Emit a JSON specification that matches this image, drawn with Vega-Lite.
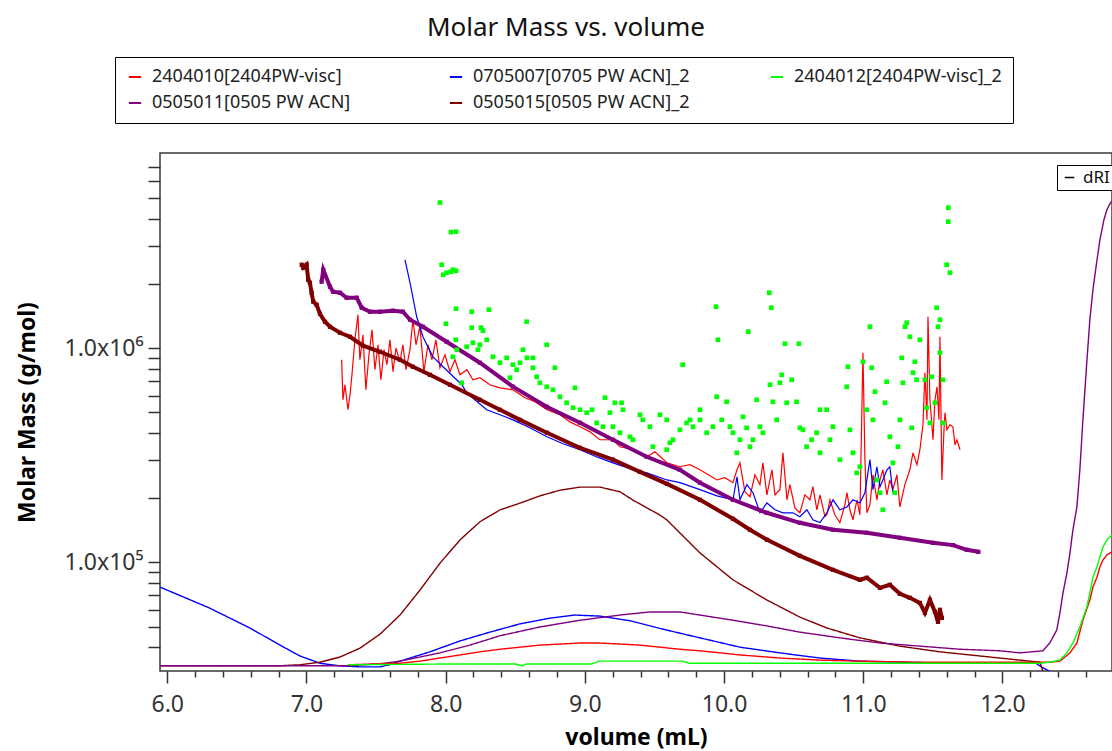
{
"$schema": "https://vega.github.io/schema/vega-lite/v6.json",
"width": 952,
"height": 518,
"autosize": {"type": "none"},
"padding": {"left": 160, "top": 153, "right": 0, "bottom": 80},
"background": "#ffffff",
"title": {"text": "Molar Mass vs. volume", "font": "Noto Sans", "fontSize": 26, "fontWeight": "normal", "color": "#111111", "anchor": "middle", "dx": -70, "offset": 16},
"config": {
  "font": "Noto Sans",
  "view": {"stroke": "#3a3a3a", "strokeWidth": 1.5},
  "axis": {"labelFont": "Noto Sans", "labelFontSize": 23, "labelColor": "#333333", "titleFont": "Noto Sans", "titleFontSize": 23, "titleFontWeight": "bold", "titleColor": "#000000", "tickColor": "#333333", "tickWidth": 1.5, "grid": false, "domain": false, "labelOverlap": false, "labelFlush": false},
  "legend": {"labelFont": "Noto Sans"}
},
"datasets": {
"mm": [
{"series":"2404010[2404PW-visc]","volume":7.253,"molar_mass":882000},
{"series":"2404010[2404PW-visc]","volume":7.262,"molar_mass":573000},
{"series":"2404010[2404PW-visc]","volume":7.277,"molar_mass":674000},
{"series":"2404010[2404PW-visc]","volume":7.298,"molar_mass":515000},
{"series":"2404010[2404PW-visc]","volume":7.313,"molar_mass":605000},
{"series":"2404010[2404PW-visc]","volume":7.327,"molar_mass":750000},
{"series":"2404010[2404PW-visc]","volume":7.348,"molar_mass":1093000},
{"series":"2404010[2404PW-visc]","volume":7.370,"molar_mass":1431000},
{"series":"2404010[2404PW-visc]","volume":7.384,"molar_mass":882000},
{"series":"2404010[2404PW-visc]","volume":7.406,"molar_mass":1154000},
{"series":"2404010[2404PW-visc]","volume":7.427,"molar_mass":638000},
{"series":"2404010[2404PW-visc]","volume":7.449,"molar_mass":930000},
{"series":"2404010[2404PW-visc]","volume":7.471,"molar_mass":1218000},
{"series":"2404010[2404PW-visc]","volume":7.492,"molar_mass":792000},
{"series":"2404010[2404PW-visc]","volume":7.514,"molar_mass":1036000},
{"series":"2404010[2404PW-visc]","volume":7.535,"molar_mass":711000},
{"series":"2404010[2404PW-visc]","volume":7.557,"molar_mass":982000},
{"series":"2404010[2404PW-visc]","volume":7.578,"molar_mass":836000},
{"series":"2404010[2404PW-visc]","volume":7.600,"molar_mass":1093000},
{"series":"2404010[2404PW-visc]","volume":7.622,"molar_mass":775000},
{"series":"2404010[2404PW-visc]","volume":7.643,"molar_mass":1000000},
{"series":"2404010[2404PW-visc]","volume":7.672,"molar_mass":863000},
{"series":"2404010[2404PW-visc]","volume":7.693,"molar_mass":1036000},
{"series":"2404010[2404PW-visc]","volume":7.715,"molar_mass":792000},
{"series":"2404010[2404PW-visc]","volume":7.744,"molar_mass":982000},
{"series":"2404010[2404PW-visc]","volume":7.765,"molar_mass":1356000},
{"series":"2404010[2404PW-visc]","volume":7.787,"molar_mass":1036000},
{"series":"2404010[2404PW-visc]","volume":7.815,"molar_mass":1258000},
{"series":"2404010[2404PW-visc]","volume":7.844,"molar_mass":775000},
{"series":"2404010[2404PW-visc]","volume":7.873,"molar_mass":1036000},
{"series":"2404010[2404PW-visc]","volume":7.902,"molar_mass":882000},
{"series":"2404010[2404PW-visc]","volume":7.930,"molar_mass":1093000},
{"series":"2404010[2404PW-visc]","volume":7.959,"molar_mass":809000},
{"series":"2404010[2404PW-visc]","volume":7.995,"molar_mass":930000},
{"series":"2404010[2404PW-visc]","volume":8.031,"molar_mass":775000},
{"series":"2404010[2404PW-visc]","volume":8.067,"molar_mass":882000},
{"series":"2404010[2404PW-visc]","volume":8.103,"molar_mass":750000},
{"series":"2404010[2404PW-visc]","volume":8.153,"molar_mass":792000},
{"series":"2404010[2404PW-visc]","volume":8.196,"molar_mass":711000},
{"series":"2404010[2404PW-visc]","volume":8.246,"molar_mass":727000},
{"series":"2404010[2404PW-visc]","volume":8.318,"molar_mass":674000},
{"series":"2404010[2404PW-visc]","volume":8.390,"molar_mass":652000},
{"series":"2404010[2404PW-visc]","volume":8.483,"molar_mass":638000},
{"series":"2404010[2404PW-visc]","volume":8.570,"molar_mass":586000},
{"series":"2404010[2404PW-visc]","volume":8.642,"molar_mass":561000},
{"series":"2404010[2404PW-visc]","volume":8.728,"molar_mass":515000},
{"series":"2404010[2404PW-visc]","volume":8.821,"molar_mass":488000},
{"series":"2404010[2404PW-visc]","volume":8.893,"molar_mass":452000},
{"series":"2404010[2404PW-visc]","volume":8.965,"molar_mass":429000},
{"series":"2404010[2404PW-visc]","volume":9.037,"molar_mass":406000},
{"series":"2404010[2404PW-visc]","volume":9.108,"molar_mass":373000},
{"series":"2404010[2404PW-visc]","volume":9.202,"molar_mass":373000},
{"series":"2404010[2404PW-visc]","volume":9.252,"molar_mass":346000},
{"series":"2404010[2404PW-visc]","volume":9.345,"molar_mass":335000},
{"series":"2404010[2404PW-visc]","volume":9.446,"molar_mass":310000},
{"series":"2404010[2404PW-visc]","volume":9.503,"molar_mass":328000},
{"series":"2404010[2404PW-visc]","volume":9.590,"molar_mass":291000},
{"series":"2404010[2404PW-visc]","volume":9.683,"molar_mass":279000},
{"series":"2404010[2404PW-visc]","volume":9.755,"molar_mass":285000},
{"series":"2404010[2404PW-visc]","volume":9.827,"molar_mass":270000},
{"series":"2404010[2404PW-visc]","volume":9.899,"molar_mass":253000},
{"series":"2404010[2404PW-visc]","volume":9.949,"molar_mass":242000},
{"series":"2404010[2404PW-visc]","volume":10.006,"molar_mass":248000},
{"series":"2404010[2404PW-visc]","volume":10.064,"molar_mass":235000},
{"series":"2404010[2404PW-visc]","volume":10.093,"molar_mass":270000},
{"series":"2404010[2404PW-visc]","volume":10.114,"molar_mass":291000},
{"series":"2404010[2404PW-visc]","volume":10.150,"molar_mass":213000},
{"series":"2404010[2404PW-visc]","volume":10.186,"molar_mass":202000},
{"series":"2404010[2404PW-visc]","volume":10.222,"molar_mass":256000},
{"series":"2404010[2404PW-visc]","volume":10.258,"molar_mass":230000},
{"series":"2404010[2404PW-visc]","volume":10.279,"molar_mass":291000},
{"series":"2404010[2404PW-visc]","volume":10.308,"molar_mass":206000},
{"series":"2404010[2404PW-visc]","volume":10.344,"molar_mass":270000},
{"series":"2404010[2404PW-visc]","volume":10.366,"molar_mass":206000},
{"series":"2404010[2404PW-visc]","volume":10.401,"molar_mass":218000},
{"series":"2404010[2404PW-visc]","volume":10.423,"molar_mass":324000},
{"series":"2404010[2404PW-visc]","volume":10.452,"molar_mass":195500},
{"series":"2404010[2404PW-visc]","volume":10.473,"molar_mass":230000},
{"series":"2404010[2404PW-visc]","volume":10.509,"molar_mass":179000},
{"series":"2404010[2404PW-visc]","volume":10.545,"molar_mass":170000},
{"series":"2404010[2404PW-visc]","volume":10.581,"molar_mass":206000},
{"series":"2404010[2404PW-visc]","volume":10.617,"molar_mass":195500},
{"series":"2404010[2404PW-visc]","volume":10.638,"molar_mass":225000},
{"series":"2404010[2404PW-visc]","volume":10.667,"molar_mass":175600},
{"series":"2404010[2404PW-visc]","volume":10.689,"molar_mass":206000},
{"series":"2404010[2404PW-visc]","volume":10.725,"molar_mass":163000},
{"series":"2404010[2404PW-visc]","volume":10.739,"molar_mass":166400},
{"series":"2404010[2404PW-visc]","volume":10.761,"molar_mass":195500},
{"series":"2404010[2404PW-visc]","volume":10.796,"molar_mass":166400},
{"series":"2404010[2404PW-visc]","volume":10.832,"molar_mass":153000},
{"series":"2404010[2404PW-visc]","volume":10.868,"molar_mass":185300},
{"series":"2404010[2404PW-visc]","volume":10.883,"molar_mass":211000},
{"series":"2404010[2404PW-visc]","volume":10.904,"molar_mass":175600},
{"series":"2404010[2404PW-visc]","volume":10.926,"molar_mass":157700},
{"series":"2404010[2404PW-visc]","volume":10.955,"molar_mass":195500},
{"series":"2404010[2404PW-visc]","volume":10.976,"molar_mass":166400},
{"series":"2404010[2404PW-visc]","volume":10.998,"molar_mass":951000},
{"series":"2404010[2404PW-visc]","volume":11.012,"molar_mass":301000},
{"series":"2404010[2404PW-visc]","volume":11.026,"molar_mass":170000},
{"series":"2404010[2404PW-visc]","volume":11.048,"molar_mass":185300},
{"series":"2404010[2404PW-visc]","volume":11.070,"molar_mass":256000},
{"series":"2404010[2404PW-visc]","volume":11.098,"molar_mass":195500},
{"series":"2404010[2404PW-visc]","volume":11.120,"molar_mass":242000},
{"series":"2404010[2404PW-visc]","volume":11.141,"molar_mass":270000},
{"series":"2404010[2404PW-visc]","volume":11.170,"molar_mass":206000},
{"series":"2404010[2404PW-visc]","volume":11.191,"molar_mass":242000},
{"series":"2404010[2404PW-visc]","volume":11.213,"molar_mass":218000},
{"series":"2404010[2404PW-visc]","volume":11.242,"molar_mass":256000},
{"series":"2404010[2404PW-visc]","volume":11.263,"molar_mass":181000},
{"series":"2404010[2404PW-visc]","volume":11.299,"molar_mass":230000},
{"series":"2404010[2404PW-visc]","volume":11.335,"molar_mass":270000},
{"series":"2404010[2404PW-visc]","volume":11.357,"molar_mass":324000},
{"series":"2404010[2404PW-visc]","volume":11.386,"molar_mass":285000},
{"series":"2404010[2404PW-visc]","volume":11.407,"molar_mass":335000},
{"series":"2404010[2404PW-visc]","volume":11.429,"molar_mass":438000},
{"series":"2404010[2404PW-visc]","volume":11.443,"molar_mass":767000},
{"series":"2404010[2404PW-visc]","volume":11.458,"molar_mass":462000},
{"series":"2404010[2404PW-visc]","volume":11.465,"molar_mass":1400000},
{"series":"2404010[2404PW-visc]","volume":11.479,"molar_mass":573000},
{"series":"2404010[2404PW-visc]","volume":11.501,"molar_mass":373000},
{"series":"2404010[2404PW-visc]","volume":11.515,"molar_mass":573000},
{"series":"2404010[2404PW-visc]","volume":11.530,"molar_mass":659000},
{"series":"2404010[2404PW-visc]","volume":11.544,"molar_mass":462000},
{"series":"2404010[2404PW-visc]","volume":11.551,"molar_mass":1129000},
{"series":"2404010[2404PW-visc]","volume":11.565,"molar_mass":242000},
{"series":"2404010[2404PW-visc]","volume":11.580,"molar_mass":415000},
{"series":"2404010[2404PW-visc]","volume":11.587,"molar_mass":499000},
{"series":"2404010[2404PW-visc]","volume":11.601,"molar_mass":415000},
{"series":"2404010[2404PW-visc]","volume":11.623,"molar_mass":438000},
{"series":"2404010[2404PW-visc]","volume":11.644,"molar_mass":429000},
{"series":"2404010[2404PW-visc]","volume":11.659,"molar_mass":353000},
{"series":"2404010[2404PW-visc]","volume":11.673,"molar_mass":373000},
{"series":"2404010[2404PW-visc]","volume":11.695,"molar_mass":335000},
{"series":"0705007[0705 PW ACN]_2","volume":7.708,"molar_mass":2585000},
{"series":"0705007[0705 PW ACN]_2","volume":7.744,"molar_mass":2020000},
{"series":"0705007[0705 PW ACN]_2","volume":7.792,"molar_mass":1400000},
{"series":"0705007[0705 PW ACN]_2","volume":7.837,"molar_mass":1129000},
{"series":"0705007[0705 PW ACN]_2","volume":7.909,"molar_mass":910000},
{"series":"0705007[0705 PW ACN]_2","volume":7.981,"molar_mass":818000},
{"series":"0705007[0705 PW ACN]_2","volume":8.079,"molar_mass":711000},
{"series":"0705007[0705 PW ACN]_2","volume":8.117,"molar_mass":674000},
{"series":"0705007[0705 PW ACN]_2","volume":8.151,"molar_mass":618000},
{"series":"0705007[0705 PW ACN]_2","volume":8.210,"molar_mass":573000},
{"series":"0705007[0705 PW ACN]_2","volume":8.295,"molar_mass":515000},
{"series":"0705007[0705 PW ACN]_2","volume":8.390,"molar_mass":488000},
{"series":"0705007[0705 PW ACN]_2","volume":8.483,"molar_mass":462000},
{"series":"0705007[0705 PW ACN]_2","volume":8.605,"molar_mass":424000},
{"series":"0705007[0705 PW ACN]_2","volume":8.728,"molar_mass":385000},
{"series":"0705007[0705 PW ACN]_2","volume":8.843,"molar_mass":357000},
{"series":"0705007[0705 PW ACN]_2","volume":8.965,"molar_mass":335000},
{"series":"0705007[0705 PW ACN]_2","volume":9.087,"molar_mass":310000},
{"series":"0705007[0705 PW ACN]_2","volume":9.202,"molar_mass":291000},
{"series":"0705007[0705 PW ACN]_2","volume":9.345,"molar_mass":270000},
{"series":"0705007[0705 PW ACN]_2","volume":9.446,"molar_mass":261000},
{"series":"0705007[0705 PW ACN]_2","volume":9.590,"molar_mass":242000},
{"series":"0705007[0705 PW ACN]_2","volume":9.683,"molar_mass":235000},
{"series":"0705007[0705 PW ACN]_2","volume":9.827,"molar_mass":218000},
{"series":"0705007[0705 PW ACN]_2","volume":9.949,"molar_mass":204000},
{"series":"0705007[0705 PW ACN]_2","volume":10.064,"molar_mass":195500},
{"series":"0705007[0705 PW ACN]_2","volume":10.093,"molar_mass":250000},
{"series":"0705007[0705 PW ACN]_2","volume":10.114,"molar_mass":195500},
{"series":"0705007[0705 PW ACN]_2","volume":10.164,"molar_mass":230000},
{"series":"0705007[0705 PW ACN]_2","volume":10.208,"molar_mass":211000},
{"series":"0705007[0705 PW ACN]_2","volume":10.258,"molar_mass":170000},
{"series":"0705007[0705 PW ACN]_2","volume":10.308,"molar_mass":189000},
{"series":"0705007[0705 PW ACN]_2","volume":10.366,"molar_mass":175600},
{"series":"0705007[0705 PW ACN]_2","volume":10.423,"molar_mass":170000},
{"series":"0705007[0705 PW ACN]_2","volume":10.495,"molar_mass":170000},
{"series":"0705007[0705 PW ACN]_2","volume":10.545,"molar_mass":163000},
{"series":"0705007[0705 PW ACN]_2","volume":10.595,"molar_mass":175600},
{"series":"0705007[0705 PW ACN]_2","volume":10.638,"molar_mass":157700},
{"series":"0705007[0705 PW ACN]_2","volume":10.689,"molar_mass":153000},
{"series":"0705007[0705 PW ACN]_2","volume":10.739,"molar_mass":170000},
{"series":"0705007[0705 PW ACN]_2","volume":10.783,"molar_mass":195500},
{"series":"0705007[0705 PW ACN]_2","volume":10.832,"molar_mass":175600},
{"series":"0705007[0705 PW ACN]_2","volume":10.883,"molar_mass":181000},
{"series":"0705007[0705 PW ACN]_2","volume":10.926,"molar_mass":195500},
{"series":"0705007[0705 PW ACN]_2","volume":10.976,"molar_mass":189000},
{"series":"0705007[0705 PW ACN]_2","volume":11.012,"molar_mass":211000},
{"series":"0705007[0705 PW ACN]_2","volume":11.048,"molar_mass":301000},
{"series":"0705007[0705 PW ACN]_2","volume":11.070,"molar_mass":218000},
{"series":"0705007[0705 PW ACN]_2","volume":11.098,"molar_mass":279000},
{"series":"0705007[0705 PW ACN]_2","volume":11.120,"molar_mass":225000},
{"series":"0705007[0705 PW ACN]_2","volume":11.141,"molar_mass":242000},
{"series":"0705007[0705 PW ACN]_2","volume":11.170,"molar_mass":270000},
{"series":"0705007[0705 PW ACN]_2","volume":11.191,"molar_mass":279000},
{"series":"0705007[0705 PW ACN]_2","volume":11.213,"molar_mass":211000},
{"series":"0505011[0505 PW ACN]","volume":7.109,"molar_mass":2040000},
{"series":"0505011[0505 PW ACN]","volume":7.121,"molar_mass":2322000},
{"series":"0505011[0505 PW ACN]","volume":7.169,"molar_mass":1934000},
{"series":"0505011[0505 PW ACN]","volume":7.191,"molar_mass":1833000},
{"series":"0505011[0505 PW ACN]","volume":7.241,"molar_mass":1813000},
{"series":"0505011[0505 PW ACN]","volume":7.289,"molar_mass":1718000},
{"series":"0505011[0505 PW ACN]","volume":7.361,"molar_mass":1718000},
{"series":"0505011[0505 PW ACN]","volume":7.397,"molar_mass":1543000},
{"series":"0505011[0505 PW ACN]","volume":7.457,"molar_mass":1478000},
{"series":"0505011[0505 PW ACN]","volume":7.528,"molar_mass":1478000},
{"series":"0505011[0505 PW ACN]","volume":7.621,"molar_mass":1494000},
{"series":"0505011[0505 PW ACN]","volume":7.693,"molar_mass":1478000},
{"series":"0505011[0505 PW ACN]","volume":7.744,"molar_mass":1356000},
{"series":"0505011[0505 PW ACN]","volume":7.837,"molar_mass":1257000},
{"series":"0505011[0505 PW ACN]","volume":8.007,"molar_mass":1070000},
{"series":"0505011[0505 PW ACN]","volume":8.246,"molar_mass":854000},
{"series":"0505011[0505 PW ACN]","volume":8.483,"molar_mass":660000},
{"series":"0505011[0505 PW ACN]","volume":8.726,"molar_mass":532000},
{"series":"0505011[0505 PW ACN]","volume":8.965,"molar_mass":448000},
{"series":"0505011[0505 PW ACN]","volume":9.202,"molar_mass":373000},
{"series":"0505011[0505 PW ACN]","volume":9.444,"molar_mass":310500},
{"series":"0505011[0505 PW ACN]","volume":9.683,"molar_mass":270000},
{"series":"0505011[0505 PW ACN]","volume":9.827,"molar_mass":235000},
{"series":"0505011[0505 PW ACN]","volume":10.064,"molar_mass":195500},
{"series":"0505011[0505 PW ACN]","volume":10.306,"molar_mass":170000},
{"series":"0505011[0505 PW ACN]","volume":10.545,"molar_mass":152600},
{"series":"0505011[0505 PW ACN]","volume":10.783,"molar_mass":141600},
{"series":"0505011[0505 PW ACN]","volume":11.024,"molar_mass":137100},
{"series":"0505011[0505 PW ACN]","volume":11.263,"molar_mass":129900},
{"series":"0505011[0505 PW ACN]","volume":11.501,"molar_mass":123100},
{"series":"0505011[0505 PW ACN]","volume":11.645,"molar_mass":120100},
{"series":"0505011[0505 PW ACN]","volume":11.743,"molar_mass":114200},
{"series":"0505011[0505 PW ACN]","volume":11.827,"molar_mass":111700},
{"series":"0505015[0505 PW ACN]_2","volume":6.966,"molar_mass":2451000},
{"series":"0505015[0505 PW ACN]_2","volume":6.977,"molar_mass":2373000},
{"series":"0505015[0505 PW ACN]_2","volume":7.001,"molar_mass":2451000},
{"series":"0505015[0505 PW ACN]_2","volume":7.013,"molar_mass":2085000},
{"series":"0505015[0505 PW ACN]_2","volume":7.025,"molar_mass":2019000},
{"series":"0505015[0505 PW ACN]_2","volume":7.037,"molar_mass":1813000},
{"series":"0505015[0505 PW ACN]_2","volume":7.049,"molar_mass":1646000},
{"series":"0505015[0505 PW ACN]_2","volume":7.073,"molar_mass":1594000},
{"series":"0505015[0505 PW ACN]_2","volume":7.097,"molar_mass":1446000},
{"series":"0505015[0505 PW ACN]_2","volume":7.133,"molar_mass":1327000},
{"series":"0505015[0505 PW ACN]_2","volume":7.169,"molar_mass":1257000},
{"series":"0505015[0505 PW ACN]_2","volume":7.241,"molar_mass":1179000},
{"series":"0505015[0505 PW ACN]_2","volume":7.313,"molar_mass":1129000},
{"series":"0505015[0505 PW ACN]_2","volume":7.406,"molar_mass":1025000},
{"series":"0505015[0505 PW ACN]_2","volume":7.528,"molar_mass":961000},
{"series":"0505015[0505 PW ACN]_2","volume":7.672,"molar_mass":882000},
{"series":"0505015[0505 PW ACN]_2","volume":7.765,"molar_mass":818000},
{"series":"0505015[0505 PW ACN]_2","volume":7.887,"molar_mass":750000},
{"series":"0505015[0505 PW ACN]_2","volume":8.031,"molar_mass":674000},
{"series":"0505015[0505 PW ACN]_2","volume":8.246,"molar_mass":573000},
{"series":"0505015[0505 PW ACN]_2","volume":8.390,"molar_mass":515000},
{"series":"0505015[0505 PW ACN]_2","volume":8.534,"molar_mass":462000},
{"series":"0505015[0505 PW ACN]_2","volume":8.728,"molar_mass":402000},
{"series":"0505015[0505 PW ACN]_2","volume":8.965,"molar_mass":342000},
{"series":"0505015[0505 PW ACN]_2","volume":9.202,"molar_mass":301000},
{"series":"0505015[0505 PW ACN]_2","volume":9.396,"molar_mass":264000},
{"series":"0505015[0505 PW ACN]_2","volume":9.590,"molar_mass":232000},
{"series":"0505015[0505 PW ACN]_2","volume":9.827,"molar_mass":195500},
{"series":"0505015[0505 PW ACN]_2","volume":10.064,"molar_mass":159400},
{"series":"0505015[0505 PW ACN]_2","volume":10.186,"molar_mass":141600},
{"series":"0505015[0505 PW ACN]_2","volume":10.309,"molar_mass":127100},
{"series":"0505015[0505 PW ACN]_2","volume":10.545,"molar_mass":107000},
{"series":"0505015[0505 PW ACN]_2","volume":10.783,"molar_mass":92000},
{"series":"0505015[0505 PW ACN]_2","volume":10.976,"molar_mass":82700},
{"series":"0505015[0505 PW ACN]_2","volume":11.026,"molar_mass":84500},
{"series":"0505015[0505 PW ACN]_2","volume":11.120,"molar_mass":75800},
{"series":"0505015[0505 PW ACN]_2","volume":11.191,"molar_mass":78300},
{"series":"0505015[0505 PW ACN]_2","volume":11.263,"molar_mass":71100},
{"series":"0505015[0505 PW ACN]_2","volume":11.335,"molar_mass":68100},
{"series":"0505015[0505 PW ACN]_2","volume":11.407,"molar_mass":64500},
{"series":"0505015[0505 PW ACN]_2","volume":11.443,"molar_mass":58000},
{"series":"0505015[0505 PW ACN]_2","volume":11.479,"molar_mass":66600},
{"series":"0505015[0505 PW ACN]_2","volume":11.515,"molar_mass":58600},
{"series":"0505015[0505 PW ACN]_2","volume":11.537,"molar_mass":52600},
{"series":"0505015[0505 PW ACN]_2","volume":11.551,"molar_mass":59900},
{"series":"0505015[0505 PW ACN]_2","volume":11.565,"molar_mass":54900},
{"series":"2404012[2404PW-visc]_2","volume":7.959,"molar_mass":4780000},
{"series":"2404012[2404PW-visc]_2","volume":8.038,"molar_mass":3480000},
{"series":"2404012[2404PW-visc]_2","volume":8.074,"molar_mass":3496000},
{"series":"2404012[2404PW-visc]_2","volume":7.971,"molar_mass":2451000},
{"series":"2404012[2404PW-visc]_2","volume":7.983,"molar_mass":2200000},
{"series":"2404012[2404PW-visc]_2","volume":8.007,"molar_mass":2248000},
{"series":"2404012[2404PW-visc]_2","volume":8.038,"molar_mass":2272000},
{"series":"2404012[2404PW-visc]_2","volume":8.052,"molar_mass":2322000},
{"series":"2404012[2404PW-visc]_2","volume":8.074,"molar_mass":2297000},
{"series":"2404012[2404PW-visc]_2","volume":8.074,"molar_mass":1527000},
{"series":"2404012[2404PW-visc]_2","volume":8.187,"molar_mass":1478000},
{"series":"2404012[2404PW-visc]_2","volume":8.311,"molar_mass":1510000},
{"series":"2404012[2404PW-visc]_2","volume":8.582,"molar_mass":1327000},
{"series":"2404012[2404PW-visc]_2","volume":8.002,"molar_mass":1299000},
{"series":"2404012[2404PW-visc]_2","volume":8.187,"molar_mass":1245000},
{"series":"2404012[2404PW-visc]_2","volume":8.254,"molar_mass":1245000},
{"series":"2404012[2404PW-visc]_2","volume":8.268,"molar_mass":1206000},
{"series":"2404012[2404PW-visc]_2","volume":8.072,"molar_mass":1093000},
{"series":"2404012[2404PW-visc]_2","volume":8.151,"molar_mass":1014000},
{"series":"2404012[2404PW-visc]_2","volume":8.196,"molar_mass":1059000},
{"series":"2404012[2404PW-visc]_2","volume":8.246,"molar_mass":1036000},
{"series":"2404012[2404PW-visc]_2","volume":8.295,"molar_mass":1093000},
{"series":"2404012[2404PW-visc]_2","volume":8.232,"molar_mass":982000},
{"series":"2404012[2404PW-visc]_2","volume":8.052,"molar_mass":910000},
{"series":"2404012[2404PW-visc]_2","volume":8.081,"molar_mass":982000},
{"series":"2404012[2404PW-visc]_2","volume":8.115,"molar_mass":688000},
{"series":"2404012[2404PW-visc]_2","volume":8.340,"molar_mass":910000},
{"series":"2404012[2404PW-visc]_2","volume":8.390,"molar_mass":854000},
{"series":"2404012[2404PW-visc]_2","volume":8.438,"molar_mass":900000},
{"series":"2404012[2404PW-visc]_2","volume":8.483,"molar_mass":836000},
{"series":"2404012[2404PW-visc]_2","volume":8.534,"molar_mass":854000},
{"series":"2404012[2404PW-visc]_2","volume":8.555,"molar_mass":982000},
{"series":"2404012[2404PW-visc]_2","volume":8.584,"molar_mass":900000},
{"series":"2404012[2404PW-visc]_2","volume":8.627,"molar_mass":900000},
{"series":"2404012[2404PW-visc]_2","volume":8.510,"molar_mass":792000},
{"series":"2404012[2404PW-visc]_2","volume":8.462,"molar_mass":727000},
{"series":"2404012[2404PW-visc]_2","volume":8.627,"molar_mass":809000},
{"series":"2404012[2404PW-visc]_2","volume":8.726,"molar_mass":1036000},
{"series":"2404012[2404PW-visc]_2","volume":8.785,"molar_mass":809000},
{"series":"2404012[2404PW-visc]_2","volume":8.654,"molar_mass":734000},
{"series":"2404012[2404PW-visc]_2","volume":8.677,"molar_mass":688000},
{"series":"2404012[2404PW-visc]_2","volume":8.726,"molar_mass":659000},
{"series":"2404012[2404PW-visc]_2","volume":8.771,"molar_mass":638000},
{"series":"2404012[2404PW-visc]_2","volume":8.821,"molar_mass":592000},
{"series":"2404012[2404PW-visc]_2","volume":8.869,"molar_mass":555000},
{"series":"2404012[2404PW-visc]_2","volume":8.929,"molar_mass":652000},
{"series":"2404012[2404PW-visc]_2","volume":8.915,"molar_mass":526000},
{"series":"2404012[2404PW-visc]_2","volume":8.965,"molar_mass":515000},
{"series":"2404012[2404PW-visc]_2","volume":9.013,"molar_mass":499000},
{"series":"2404012[2404PW-visc]_2","volume":9.051,"molar_mass":515000},
{"series":"2404012[2404PW-visc]_2","volume":9.085,"molar_mass":447000},
{"series":"2404012[2404PW-visc]_2","volume":9.145,"molar_mass":586000},
{"series":"2404012[2404PW-visc]_2","volume":9.216,"molar_mass":555000},
{"series":"2404012[2404PW-visc]_2","volume":9.264,"molar_mass":555000},
{"series":"2404012[2404PW-visc]_2","volume":9.274,"molar_mass":515000},
{"series":"2404012[2404PW-visc]_2","volume":9.180,"molar_mass":499000},
{"series":"2404012[2404PW-visc]_2","volume":9.130,"molar_mass":429000},
{"series":"2404012[2404PW-visc]_2","volume":9.202,"molar_mass":429000},
{"series":"2404012[2404PW-visc]_2","volume":9.252,"molar_mass":402000},
{"series":"2404012[2404PW-visc]_2","volume":9.324,"molar_mass":385000},
{"series":"2404012[2404PW-visc]_2","volume":9.345,"molar_mass":373000},
{"series":"2404012[2404PW-visc]_2","volume":9.396,"molar_mass":488000},
{"series":"2404012[2404PW-visc]_2","volume":9.417,"molar_mass":462000},
{"series":"2404012[2404PW-visc]_2","volume":9.467,"molar_mass":429000},
{"series":"2404012[2404PW-visc]_2","volume":9.489,"molar_mass":346000},
{"series":"2404012[2404PW-visc]_2","volume":9.539,"molar_mass":488000},
{"series":"2404012[2404PW-visc]_2","volume":9.588,"molar_mass":462000},
{"series":"2404012[2404PW-visc]_2","volume":9.611,"molar_mass":361000},
{"series":"2404012[2404PW-visc]_2","volume":9.588,"molar_mass":335000},
{"series":"2404012[2404PW-visc]_2","volume":9.633,"molar_mass":373000},
{"series":"2404012[2404PW-visc]_2","volume":9.683,"molar_mass":415000},
{"series":"2404012[2404PW-visc]_2","volume":9.703,"molar_mass":836000},
{"series":"2404012[2404PW-visc]_2","volume":9.731,"molar_mass":447000},
{"series":"2404012[2404PW-visc]_2","volume":9.755,"molar_mass":462000},
{"series":"2404012[2404PW-visc]_2","volume":9.777,"molar_mass":429000},
{"series":"2404012[2404PW-visc]_2","volume":9.827,"molar_mass":515000},
{"series":"2404012[2404PW-visc]_2","volume":9.827,"molar_mass":462000},
{"series":"2404012[2404PW-visc]_2","volume":9.875,"molar_mass":402000},
{"series":"2404012[2404PW-visc]_2","volume":9.920,"molar_mass":429000},
{"series":"2404012[2404PW-visc]_2","volume":9.947,"molar_mass":592000},
{"series":"2404012[2404PW-visc]_2","volume":9.942,"molar_mass":1560000},
{"series":"2404012[2404PW-visc]_2","volume":9.956,"molar_mass":1093000},
{"series":"2404012[2404PW-visc]_2","volume":9.983,"molar_mass":462000},
{"series":"2404012[2404PW-visc]_2","volume":10.019,"molar_mass":561000},
{"series":"2404012[2404PW-visc]_2","volume":10.042,"molar_mass":429000},
{"series":"2404012[2404PW-visc]_2","volume":10.064,"molar_mass":402000},
{"series":"2404012[2404PW-visc]_2","volume":10.091,"molar_mass":324000},
{"series":"2404012[2404PW-visc]_2","volume":10.114,"molar_mass":373000},
{"series":"2404012[2404PW-visc]_2","volume":10.136,"molar_mass":477000},
{"series":"2404012[2404PW-visc]_2","volume":10.162,"molar_mass":424000},
{"series":"2404012[2404PW-visc]_2","volume":10.174,"molar_mass":1193000},
{"series":"2404012[2404PW-visc]_2","volume":10.186,"molar_mass":346000},
{"series":"2404012[2404PW-visc]_2","volume":10.208,"molar_mass":373000},
{"series":"2404012[2404PW-visc]_2","volume":10.234,"molar_mass":573000},
{"series":"2404012[2404PW-visc]_2","volume":10.258,"molar_mass":429000},
{"series":"2404012[2404PW-visc]_2","volume":10.279,"molar_mass":402000},
{"series":"2404012[2404PW-visc]_2","volume":10.330,"molar_mass":674000},
{"series":"2404012[2404PW-visc]_2","volume":10.325,"molar_mass":1813000},
{"series":"2404012[2404PW-visc]_2","volume":10.339,"molar_mass":1543000},
{"series":"2404012[2404PW-visc]_2","volume":10.351,"molar_mass":561000},
{"series":"2404012[2404PW-visc]_2","volume":10.378,"molar_mass":462000},
{"series":"2404012[2404PW-visc]_2","volume":10.401,"molar_mass":688000},
{"series":"2404012[2404PW-visc]_2","volume":10.414,"molar_mass":750000},
{"series":"2404012[2404PW-visc]_2","volume":10.437,"molar_mass":1047000},
{"series":"2404012[2404PW-visc]_2","volume":10.450,"molar_mass":555000},
{"series":"2404012[2404PW-visc]_2","volume":10.486,"molar_mass":711000},
{"series":"2404012[2404PW-visc]_2","volume":10.521,"molar_mass":561000},
{"series":"2404012[2404PW-visc]_2","volume":10.538,"molar_mass":1047000},
{"series":"2404012[2404PW-visc]_2","volume":10.545,"molar_mass":424000},
{"series":"2404012[2404PW-visc]_2","volume":10.567,"molar_mass":415000},
{"series":"2404012[2404PW-visc]_2","volume":10.593,"molar_mass":346000},
{"series":"2404012[2404PW-visc]_2","volume":10.629,"molar_mass":373000},
{"series":"2404012[2404PW-visc]_2","volume":10.665,"molar_mass":402000},
{"series":"2404012[2404PW-visc]_2","volume":10.689,"molar_mass":324000},
{"series":"2404012[2404PW-visc]_2","volume":10.689,"molar_mass":515000},
{"series":"2404012[2404PW-visc]_2","volume":10.737,"molar_mass":515000},
{"series":"2404012[2404PW-visc]_2","volume":10.761,"molar_mass":373000},
{"series":"2404012[2404PW-visc]_2","volume":10.782,"molar_mass":429000},
{"series":"2404012[2404PW-visc]_2","volume":10.832,"molar_mass":301000},
{"series":"2404012[2404PW-visc]_2","volume":10.881,"molar_mass":659000},
{"series":"2404012[2404PW-visc]_2","volume":10.890,"molar_mass":818000},
{"series":"2404012[2404PW-visc]_2","volume":10.904,"molar_mass":415000},
{"series":"2404012[2404PW-visc]_2","volume":10.926,"molar_mass":324000},
{"series":"2404012[2404PW-visc]_2","volume":10.953,"molar_mass":261000},
{"series":"2404012[2404PW-visc]_2","volume":10.976,"molar_mass":279000},
{"series":"2404012[2404PW-visc]_2","volume":10.998,"molar_mass":863000},
{"series":"2404012[2404PW-visc]_2","volume":11.024,"molar_mass":515000},
{"series":"2404012[2404PW-visc]_2","volume":11.048,"molar_mass":1258000},
{"series":"2404012[2404PW-visc]_2","volume":11.060,"molar_mass":809000},
{"series":"2404012[2404PW-visc]_2","volume":11.070,"molar_mass":462000},
{"series":"2404012[2404PW-visc]_2","volume":11.084,"molar_mass":625000},
{"series":"2404012[2404PW-visc]_2","volume":11.096,"molar_mass":242000},
{"series":"2404012[2404PW-visc]_2","volume":11.120,"molar_mass":211000},
{"series":"2404012[2404PW-visc]_2","volume":11.141,"molar_mass":175600},
{"series":"2404012[2404PW-visc]_2","volume":11.156,"molar_mass":555000},
{"series":"2404012[2404PW-visc]_2","volume":11.168,"molar_mass":696000},
{"series":"2404012[2404PW-visc]_2","volume":11.191,"molar_mass":385000},
{"series":"2404012[2404PW-visc]_2","volume":11.213,"molar_mass":291000},
{"series":"2404012[2404PW-visc]_2","volume":11.227,"molar_mass":211000},
{"series":"2404012[2404PW-visc]_2","volume":11.249,"molar_mass":346000},
{"series":"2404012[2404PW-visc]_2","volume":11.263,"molar_mass":462000},
{"series":"2404012[2404PW-visc]_2","volume":11.276,"molar_mass":900000},
{"series":"2404012[2404PW-visc]_2","volume":11.285,"molar_mass":688000},
{"series":"2404012[2404PW-visc]_2","volume":11.300,"molar_mass":1258000},
{"series":"2404012[2404PW-visc]_2","volume":11.312,"molar_mass":1313000},
{"series":"2404012[2404PW-visc]_2","volume":11.335,"molar_mass":1129000},
{"series":"2404012[2404PW-visc]_2","volume":11.348,"molar_mass":424000},
{"series":"2404012[2404PW-visc]_2","volume":11.357,"molar_mass":767000},
{"series":"2404012[2404PW-visc]_2","volume":11.371,"molar_mass":863000},
{"series":"2404012[2404PW-visc]_2","volume":11.383,"molar_mass":711000},
{"series":"2404012[2404PW-visc]_2","volume":11.407,"molar_mass":1093000},
{"series":"2404012[2404PW-visc]_2","volume":11.443,"molar_mass":711000},
{"series":"2404012[2404PW-visc]_2","volume":11.456,"molar_mass":526000},
{"series":"2404012[2404PW-visc]_2","volume":11.479,"molar_mass":447000},
{"series":"2404012[2404PW-visc]_2","volume":11.491,"molar_mass":734000},
{"series":"2404012[2404PW-visc]_2","volume":11.515,"molar_mass":555000},
{"series":"2404012[2404PW-visc]_2","volume":11.527,"molar_mass":1543000},
{"series":"2404012[2404PW-visc]_2","volume":11.537,"molar_mass":1258000},
{"series":"2404012[2404PW-visc]_2","volume":11.551,"molar_mass":1356000},
{"series":"2404012[2404PW-visc]_2","volume":11.551,"molar_mass":951000},
{"series":"2404012[2404PW-visc]_2","volume":11.573,"molar_mass":711000},
{"series":"2404012[2404PW-visc]_2","volume":11.573,"molar_mass":447000},
{"series":"2404012[2404PW-visc]_2","volume":11.599,"molar_mass":2451000},
{"series":"2404012[2404PW-visc]_2","volume":11.611,"molar_mass":3893000},
{"series":"2404012[2404PW-visc]_2","volume":11.611,"molar_mass":4525000},
{"series":"2404012[2404PW-visc]_2","volume":11.623,"molar_mass":2248000}
],
"dri": [
{"series":"0705007[0705 PW ACN]_2","volume":5.948,"dRI":0.162},
{"series":"0705007[0705 PW ACN]_2","volume":6.300,"dRI":0.122},
{"series":"0705007[0705 PW ACN]_2","volume":6.594,"dRI":0.083},
{"series":"0705007[0705 PW ACN]_2","volume":6.810,"dRI":0.050},
{"series":"0705007[0705 PW ACN]_2","volume":6.953,"dRI":0.029},
{"series":"0705007[0705 PW ACN]_2","volume":7.097,"dRI":0.015},
{"series":"0705007[0705 PW ACN]_2","volume":7.241,"dRI":0.010},
{"series":"0705007[0705 PW ACN]_2","volume":7.384,"dRI":0.008},
{"series":"0705007[0705 PW ACN]_2","volume":7.528,"dRI":0.008},
{"series":"0705007[0705 PW ACN]_2","volume":7.593,"dRI":0.012},
{"series":"0705007[0705 PW ACN]_2","volume":7.672,"dRI":0.019},
{"series":"0705007[0705 PW ACN]_2","volume":7.887,"dRI":0.037},
{"series":"0705007[0705 PW ACN]_2","volume":8.103,"dRI":0.058},
{"series":"0705007[0705 PW ACN]_2","volume":8.318,"dRI":0.075},
{"series":"0705007[0705 PW ACN]_2","volume":8.534,"dRI":0.091},
{"series":"0705007[0705 PW ACN]_2","volume":8.749,"dRI":0.102},
{"series":"0705007[0705 PW ACN]_2","volume":8.929,"dRI":0.108},
{"series":"0705007[0705 PW ACN]_2","volume":9.108,"dRI":0.106},
{"series":"0705007[0705 PW ACN]_2","volume":9.324,"dRI":0.097},
{"series":"0705007[0705 PW ACN]_2","volume":9.588,"dRI":0.079},
{"series":"0705007[0705 PW ACN]_2","volume":9.827,"dRI":0.064},
{"series":"0705007[0705 PW ACN]_2","volume":10.114,"dRI":0.046},
{"series":"0705007[0705 PW ACN]_2","volume":10.401,"dRI":0.035},
{"series":"0705007[0705 PW ACN]_2","volume":10.689,"dRI":0.025},
{"series":"0705007[0705 PW ACN]_2","volume":10.976,"dRI":0.019},
{"series":"0705007[0705 PW ACN]_2","volume":11.263,"dRI":0.017},
{"series":"0705007[0705 PW ACN]_2","volume":11.695,"dRI":0.015},
{"series":"0705007[0705 PW ACN]_2","volume":12.240,"dRI":0.015},
{"series":"0705007[0705 PW ACN]_2","volume":12.280,"dRI":0.008},
{"series":"0705007[0705 PW ACN]_2","volume":12.360,"dRI":-0.004},
{"series":"0505015[0505 PW ACN]_2","volume":5.948,"dRI":0.010},
{"series":"0505015[0505 PW ACN]_2","volume":6.800,"dRI":0.010},
{"series":"0505015[0505 PW ACN]_2","volume":6.953,"dRI":0.012},
{"series":"0505015[0505 PW ACN]_2","volume":7.097,"dRI":0.017},
{"series":"0505015[0505 PW ACN]_2","volume":7.241,"dRI":0.027},
{"series":"0505015[0505 PW ACN]_2","volume":7.384,"dRI":0.044},
{"series":"0505015[0505 PW ACN]_2","volume":7.528,"dRI":0.071},
{"series":"0505015[0505 PW ACN]_2","volume":7.672,"dRI":0.108},
{"series":"0505015[0505 PW ACN]_2","volume":7.815,"dRI":0.156},
{"series":"0505015[0505 PW ACN]_2","volume":7.959,"dRI":0.208},
{"series":"0505015[0505 PW ACN]_2","volume":8.103,"dRI":0.253},
{"series":"0505015[0505 PW ACN]_2","volume":8.246,"dRI":0.288},
{"series":"0505015[0505 PW ACN]_2","volume":8.390,"dRI":0.311},
{"series":"0505015[0505 PW ACN]_2","volume":8.534,"dRI":0.324},
{"series":"0505015[0505 PW ACN]_2","volume":8.677,"dRI":0.338},
{"series":"0505015[0505 PW ACN]_2","volume":8.821,"dRI":0.349},
{"series":"0505015[0505 PW ACN]_2","volume":8.965,"dRI":0.355},
{"series":"0505015[0505 PW ACN]_2","volume":9.108,"dRI":0.355},
{"series":"0505015[0505 PW ACN]_2","volume":9.252,"dRI":0.346},
{"series":"0505015[0505 PW ACN]_2","volume":9.345,"dRI":0.330},
{"series":"0505015[0505 PW ACN]_2","volume":9.539,"dRI":0.301},
{"series":"0505015[0505 PW ACN]_2","volume":9.588,"dRI":0.292},
{"series":"0505015[0505 PW ACN]_2","volume":9.827,"dRI":0.228},
{"series":"0505015[0505 PW ACN]_2","volume":10.064,"dRI":0.176},
{"series":"0505015[0505 PW ACN]_2","volume":10.308,"dRI":0.137},
{"series":"0505015[0505 PW ACN]_2","volume":10.545,"dRI":0.104},
{"series":"0505015[0505 PW ACN]_2","volume":10.739,"dRI":0.083},
{"series":"0505015[0505 PW ACN]_2","volume":10.976,"dRI":0.064},
{"series":"0505015[0505 PW ACN]_2","volume":11.263,"dRI":0.048},
{"series":"0505015[0505 PW ACN]_2","volume":11.551,"dRI":0.037},
{"series":"0505015[0505 PW ACN]_2","volume":11.838,"dRI":0.029},
{"series":"0505015[0505 PW ACN]_2","volume":12.125,"dRI":0.021},
{"series":"0505015[0505 PW ACN]_2","volume":12.269,"dRI":0.017},
{"series":"0505015[0505 PW ACN]_2","volume":12.290,"dRI":0.0},
{"series":"0505011[0505 PW ACN]","volume":5.948,"dRI":0.010},
{"series":"0505011[0505 PW ACN]","volume":7.313,"dRI":0.010},
{"series":"0505011[0505 PW ACN]","volume":7.528,"dRI":0.014},
{"series":"0505011[0505 PW ACN]","volume":7.672,"dRI":0.019},
{"series":"0505011[0505 PW ACN]","volume":7.959,"dRI":0.035},
{"series":"0505011[0505 PW ACN]","volume":8.174,"dRI":0.050},
{"series":"0505011[0505 PW ACN]","volume":8.390,"dRI":0.068},
{"series":"0505011[0505 PW ACN]","volume":8.677,"dRI":0.085},
{"series":"0505011[0505 PW ACN]","volume":8.965,"dRI":0.098},
{"series":"0505011[0505 PW ACN]","volume":9.252,"dRI":0.108},
{"series":"0505011[0505 PW ACN]","volume":9.467,"dRI":0.114},
{"series":"0505011[0505 PW ACN]","volume":9.683,"dRI":0.114},
{"series":"0505011[0505 PW ACN]","volume":9.827,"dRI":0.108},
{"series":"0505011[0505 PW ACN]","volume":10.064,"dRI":0.098},
{"series":"0505011[0505 PW ACN]","volume":10.308,"dRI":0.087},
{"series":"0505011[0505 PW ACN]","volume":10.545,"dRI":0.075},
{"series":"0505011[0505 PW ACN]","volume":10.832,"dRI":0.064},
{"series":"0505011[0505 PW ACN]","volume":11.120,"dRI":0.054},
{"series":"0505011[0505 PW ACN]","volume":11.407,"dRI":0.048},
{"series":"0505011[0505 PW ACN]","volume":11.695,"dRI":0.042},
{"series":"0505011[0505 PW ACN]","volume":11.982,"dRI":0.039},
{"series":"0505011[0505 PW ACN]","volume":12.125,"dRI":0.035},
{"series":"0505011[0505 PW ACN]","volume":12.290,"dRI":0.039},
{"series":"0505011[0505 PW ACN]","volume":12.340,"dRI":0.054},
{"series":"0505011[0505 PW ACN]","volume":12.390,"dRI":0.079},
{"series":"0505011[0505 PW ACN]","volume":12.413,"dRI":0.112},
{"series":"0505011[0505 PW ACN]","volume":12.435,"dRI":0.151},
{"series":"0505011[0505 PW ACN]","volume":12.463,"dRI":0.189},
{"series":"0505011[0505 PW ACN]","volume":12.485,"dRI":0.228},
{"series":"0505011[0505 PW ACN]","volume":12.506,"dRI":0.272},
{"series":"0505011[0505 PW ACN]","volume":12.535,"dRI":0.317},
{"series":"0505011[0505 PW ACN]","volume":12.556,"dRI":0.388},
{"series":"0505011[0505 PW ACN]","volume":12.578,"dRI":0.485},
{"series":"0505011[0505 PW ACN]","volume":12.607,"dRI":0.600},
{"series":"0505011[0505 PW ACN]","volume":12.628,"dRI":0.678},
{"series":"0505011[0505 PW ACN]","volume":12.650,"dRI":0.736},
{"series":"0505011[0505 PW ACN]","volume":12.679,"dRI":0.793},
{"series":"0505011[0505 PW ACN]","volume":12.700,"dRI":0.832},
{"series":"0505011[0505 PW ACN]","volume":12.729,"dRI":0.871},
{"series":"0505011[0505 PW ACN]","volume":12.750,"dRI":0.890},
{"series":"0505011[0505 PW ACN]","volume":12.772,"dRI":0.902},
{"series":"0505011[0505 PW ACN]","volume":12.787,"dRI":0.907},
{"series":"2404010[2404PW-visc]","volume":7.300,"dRI":0.012},
{"series":"2404010[2404PW-visc]","volume":7.528,"dRI":0.014},
{"series":"2404010[2404PW-visc]","volume":7.672,"dRI":0.015},
{"series":"2404010[2404PW-visc]","volume":7.815,"dRI":0.019},
{"series":"2404010[2404PW-visc]","volume":7.959,"dRI":0.025},
{"series":"2404010[2404PW-visc]","volume":8.103,"dRI":0.031},
{"series":"2404010[2404PW-visc]","volume":8.246,"dRI":0.037},
{"series":"2404010[2404PW-visc]","volume":8.390,"dRI":0.042},
{"series":"2404010[2404PW-visc]","volume":8.534,"dRI":0.046},
{"series":"2404010[2404PW-visc]","volume":8.677,"dRI":0.050},
{"series":"2404010[2404PW-visc]","volume":8.821,"dRI":0.052},
{"series":"2404010[2404PW-visc]","volume":8.965,"dRI":0.054},
{"series":"2404010[2404PW-visc]","volume":9.108,"dRI":0.054},
{"series":"2404010[2404PW-visc]","volume":9.252,"dRI":0.052},
{"series":"2404010[2404PW-visc]","volume":9.396,"dRI":0.050},
{"series":"2404010[2404PW-visc]","volume":9.539,"dRI":0.046},
{"series":"2404010[2404PW-visc]","volume":9.683,"dRI":0.042},
{"series":"2404010[2404PW-visc]","volume":9.827,"dRI":0.039},
{"series":"2404010[2404PW-visc]","volume":10.114,"dRI":0.031},
{"series":"2404010[2404PW-visc]","volume":10.401,"dRI":0.025},
{"series":"2404010[2404PW-visc]","volume":10.689,"dRI":0.021},
{"series":"2404010[2404PW-visc]","volume":10.976,"dRI":0.019},
{"series":"2404010[2404PW-visc]","volume":11.407,"dRI":0.017},
{"series":"2404010[2404PW-visc]","volume":11.982,"dRI":0.017},
{"series":"2404010[2404PW-visc]","volume":12.269,"dRI":0.017},
{"series":"2404010[2404PW-visc]","volume":12.340,"dRI":0.017},
{"series":"2404010[2404PW-visc]","volume":12.413,"dRI":0.019},
{"series":"2404010[2404PW-visc]","volume":12.485,"dRI":0.035},
{"series":"2404010[2404PW-visc]","volume":12.535,"dRI":0.054},
{"series":"2404010[2404PW-visc]","volume":12.578,"dRI":0.098},
{"series":"2404010[2404PW-visc]","volume":12.628,"dRI":0.137},
{"series":"2404010[2404PW-visc]","volume":12.650,"dRI":0.162},
{"series":"2404010[2404PW-visc]","volume":12.679,"dRI":0.181},
{"series":"2404010[2404PW-visc]","volume":12.700,"dRI":0.201},
{"series":"2404010[2404PW-visc]","volume":12.722,"dRI":0.214},
{"series":"2404010[2404PW-visc]","volume":12.750,"dRI":0.224},
{"series":"2404010[2404PW-visc]","volume":12.787,"dRI":0.230},
{"series":"2404012[2404PW-visc]_2","volume":7.300,"dRI":0.012},
{"series":"2404012[2404PW-visc]_2","volume":8.000,"dRI":0.0135},
{"series":"2404012[2404PW-visc]_2","volume":8.500,"dRI":0.0135},
{"series":"2404012[2404PW-visc]_2","volume":8.550,"dRI":0.010},
{"series":"2404012[2404PW-visc]_2","volume":8.580,"dRI":0.0135},
{"series":"2404012[2404PW-visc]_2","volume":9.050,"dRI":0.0135},
{"series":"2404012[2404PW-visc]_2","volume":9.100,"dRI":0.019},
{"series":"2404012[2404PW-visc]_2","volume":9.700,"dRI":0.019},
{"series":"2404012[2404PW-visc]_2","volume":9.750,"dRI":0.015},
{"series":"2404012[2404PW-visc]_2","volume":12.269,"dRI":0.015},
{"series":"2404012[2404PW-visc]_2","volume":12.340,"dRI":0.017},
{"series":"2404012[2404PW-visc]_2","volume":12.413,"dRI":0.021},
{"series":"2404012[2404PW-visc]_2","volume":12.463,"dRI":0.035},
{"series":"2404012[2404PW-visc]_2","volume":12.506,"dRI":0.054},
{"series":"2404012[2404PW-visc]_2","volume":12.556,"dRI":0.085},
{"series":"2404012[2404PW-visc]_2","volume":12.607,"dRI":0.124},
{"series":"2404012[2404PW-visc]_2","volume":12.628,"dRI":0.151},
{"series":"2404012[2404PW-visc]_2","volume":12.650,"dRI":0.181},
{"series":"2404012[2404PW-visc]_2","volume":12.679,"dRI":0.201},
{"series":"2404012[2404PW-visc]_2","volume":12.700,"dRI":0.220},
{"series":"2404012[2404PW-visc]_2","volume":12.722,"dRI":0.239},
{"series":"2404012[2404PW-visc]_2","volume":12.750,"dRI":0.253},
{"series":"2404012[2404PW-visc]_2","volume":12.787,"dRI":0.263}
]
},
"layer": [
{
  "data": {"name": "dri"},
  "mark": {"type": "line", "strokeWidth": 1.4, "clip": true},
  "encoding": {
    "x": {"field": "volume", "type": "quantitative", "scale": {"domain": [5.948, 12.787], "nice": false, "zero": false},
      "axis": {"title": "volume (mL)", "titleY": 73, "titleBaseline": "alphabetic",
        "values": [6,6.2,6.4,6.6,6.8,7,7.2,7.4,7.6,7.8,8,8.2,8.4,8.6,8.8,9,9.2,9.4,9.6,9.8,10,10.2,10.4,10.6,10.8,11,11.2,11.4,11.6,11.8,12,12.2,12.4,12.6],
        "labelExpr": "abs(datum.value - round(datum.value)) < 0.01 ? format(datum.value, '.1f') : ''",
        "tickSize": {"condition": {"test": "abs(datum.value - round(datum.value)) < 0.01", "value": 12}, "value": 6},
        "labelPadding": 10}},
    "y": {"field": "dRI", "type": "quantitative", "scale": {"domain": [0, 1], "nice": false, "zero": false}, "axis": null},
    "color": {"field": "series", "type": "nominal",
      "scale": {"domain": ["2404010[2404PW-visc]", "0705007[0705 PW ACN]_2", "2404012[2404PW-visc]_2", "0505011[0505 PW ACN]", "0505015[0505 PW ACN]_2"],
                "range": ["#ff0000", "#0000ff", "#00ff00", "#800080", "#800000"]},
      "legend": {"title": null, "orient": "none", "legendX": -45, "legendY": -96, "direction": "horizontal", "columns": 3, "gridAlign": "all", "columnPadding": 76, "rowPadding": 8,
        "symbolType": "stroke", "symbolSize": 150, "symbolStrokeWidth": 2, "labelFontSize": 18, "labelColor": "#222222", "labelLimit": 500, "labelOffset": 8,
        "strokeColor": "#000000", "fillColor": "#ffffff", "padding": 11}},
    "strokeDash": {"datum": "dRI", "type": "nominal", "scale": {"range": [[1, 0]]},
      "legend": {"title": null, "orient": "none", "legendX": 897, "legendY": 12, "symbolType": "stroke", "symbolStrokeColor": "#000000", "symbolSize": 90, "symbolStrokeWidth": 1.5,
        "labelFontSize": 17, "labelColor": "#111111", "strokeColor": "#000000", "fillColor": "#ffffff", "padding": 4, "labelOffset": 5}}
  }
},
{
  "data": {"name": "mm"},
  "encoding": {
    "x": {"field": "volume", "type": "quantitative", "scale": {"domain": [5.948, 12.787], "nice": false, "zero": false},
      "axis": {"title": "volume (mL)", "titleY": 73, "titleBaseline": "alphabetic",
        "values": [6,6.2,6.4,6.6,6.8,7,7.2,7.4,7.6,7.8,8,8.2,8.4,8.6,8.8,9,9.2,9.4,9.6,9.8,10,10.2,10.4,10.6,10.8,11,11.2,11.4,11.6,11.8,12,12.2,12.4,12.6],
        "labelExpr": "abs(datum.value - round(datum.value)) < 0.01 ? format(datum.value, '.1f') : ''",
        "tickSize": {"condition": {"test": "abs(datum.value - round(datum.value)) < 0.01", "value": 12}, "value": 6},
        "labelPadding": 10}},
    "y": {"field": "molar_mass", "type": "quantitative", "scale": {"type": "log", "domain": [31000, 8150000], "nice": false},
      "axis": {"title": "Molar Mass (g/mol)", "titleX": -133, "titleY": 259, "titleAngle": 270, "titleAlign": "center", "titleBaseline": "middle",
        "values": [40000,50000,60000,70000,80000,90000,100000,200000,300000,400000,500000,600000,700000,800000,900000,1000000,2000000,3000000,4000000,5000000,6000000,7000000],
        "labelExpr": "datum.value == 100000 ? '1.0x10⁵' : (datum.value == 1000000 ? '1.0x10⁶' : '')",
        "tickSize": 12, "labelPadding": 5}}
  },
  "layer": [
    {"transform": [{"filter": {"field": "series", "oneOf": ["2404010[2404PW-visc]", "0705007[0705 PW ACN]_2"]}}],
     "mark": {"type": "line", "strokeWidth": 1.2, "clip": true},
     "encoding": {"color": {"field": "series", "type": "nominal"}}},
    {"transform": [{"filter": {"field": "series", "oneOf": ["0505011[0505 PW ACN]", "0505015[0505 PW ACN]_2"]}}],
     "mark": {"type": "line", "strokeWidth": 4, "clip": true},
     "encoding": {"color": {"field": "series", "type": "nominal"}}},
    {"transform": [{"filter": {"field": "series", "oneOf": ["0505011[0505 PW ACN]", "0505015[0505 PW ACN]_2"]}}],
     "mark": {"type": "point", "shape": "square", "filled": true, "size": 18, "opacity": 1, "clip": true},
     "encoding": {"color": {"field": "series", "type": "nominal", "legend": null}}},
    {"transform": [{"filter": {"field": "series", "equal": "2404012[2404PW-visc]_2"}}],
     "mark": {"type": "point", "shape": "square", "filled": true, "size": 22, "opacity": 1, "clip": true},
     "encoding": {"color": {"field": "series", "type": "nominal", "legend": null}}}
  ]
}
],
"resolve": {"scale": {"y": "independent"}}
}
